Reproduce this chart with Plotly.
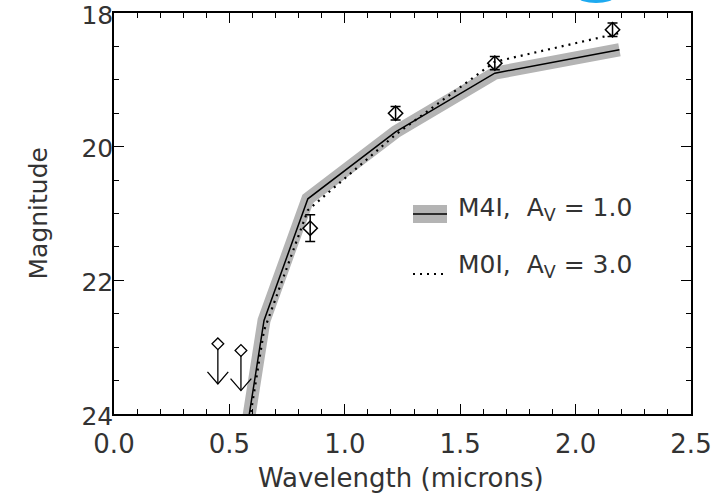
import numpy as np
import plotly.graph_objects as go

# Photometry of the source (microns, magnitudes)
obs_wave = [0.85, 1.22, 1.65, 2.16]
obs_mag = [21.22, 19.50, 18.75, 18.25]
obs_err = [0.20, 0.10, 0.10, 0.10]

# Upper limits (diamond = limit, arrow points fainter)
lim_wave = [0.45, 0.55]
lim_mag = [22.95, 23.05]
lim_arrow = 0.60  # arrow length in magnitudes

# Model SEDs
model_wave = [0.55, 0.65, 0.84, 1.22, 1.65, 2.19]
m4i_mag = [24.80, 22.60, 20.78, 19.78, 18.90, 18.55]   # M4I, Av = 1.0
m0i_mag = [24.90, 22.75, 20.95, 19.82, 18.73, 18.30]   # M0I, Av = 3.0

FONT = "DejaVu Sans"
TXT = "#333333"
BAND = "rgb(180,180,180)"
DOTS = "2px,5px"

fig = go.Figure()

# M4I model: grey uncertainty band drawn as a broad stroke, line on top
fig.add_trace(go.Scatter(x=model_wave, y=m4i_mag, mode="lines",
                         line=dict(color=BAND, width=13),
                         hoverinfo="skip", showlegend=False))
fig.add_trace(go.Scatter(x=model_wave, y=m4i_mag, mode="lines",
                         line=dict(color="black", width=1.5),
                         showlegend=False))
# M0I model: dotted
fig.add_trace(go.Scatter(x=model_wave, y=m0i_mag, mode="lines",
                         line=dict(color="black", width=2.2, dash=DOTS),
                         showlegend=False))

# Detections with error bars
fig.add_trace(go.Scatter(x=obs_wave, y=obs_mag, mode="markers",
                         marker=dict(symbol="diamond-open", size=11, color="black",
                                     line=dict(width=1.5)),
                         error_y=dict(type="data", array=obs_err, color="black",
                                      thickness=1.5, width=5),
                         showlegend=False))

# Upper limits: diamond, shaft and open arrowhead
head_dx, head_dy = 0.045, 0.18
for w, m in zip(lim_wave, lim_mag):
    tip = m + lim_arrow
    xs = [w, w, None, w - head_dx, w, w + head_dx]
    ys = [m + 0.08, tip, None, tip - head_dy, tip, tip - head_dy]
    fig.add_trace(go.Scatter(x=xs, y=ys, mode="lines",
                             line=dict(color="black", width=1.3),
                             showlegend=False))
fig.add_trace(go.Scatter(x=lim_wave, y=lim_mag, mode="markers",
                         marker=dict(symbol="diamond-open", size=9, color="black",
                                     line=dict(width=1.3)),
                         showlegend=False))

# Legend drawn by hand (pixel positions converted to paper fractions)
PX_W, PX_H = 577.0, 401.0
def px(xp, yp):
    return (xp - 114) / PX_W, 1 - (yp - 13) / PX_H

x0, y0 = px(413, 205)
x1, y1 = px(447, 223)
fig.add_shape(type="rect", xref="paper", yref="paper", x0=x0, x1=x1, y0=y1, y1=y0,
              fillcolor=BAND, line=dict(width=0))
lx0, ly = px(413, 214)
lx1, _ = px(447, 214)
fig.add_shape(type="line", xref="paper", yref="paper", x0=lx0, x1=lx1, y0=ly, y1=ly,
              line=dict(color="black", width=1.5))
dx0, dy = px(413, 274)
dx1, _ = px(447, 274)
fig.add_shape(type="line", xref="paper", yref="paper", x0=dx0, x1=dx1, y0=dy, y1=dy,
              line=dict(color="black", width=2.2, dash=DOTS))

tx, ty1 = px(456, 209)
_, ty2 = px(456, 266)
for yy, label in [(ty1, "M4I,  A<sub>V</sub> = 1.0"), (ty2, "M0I,  A<sub>V</sub> = 3.0")]:
    fig.add_annotation(xref="paper", yref="paper", x=tx, y=yy, text=label,
                       showarrow=False, xanchor="left", yanchor="middle",
                       font=dict(family=FONT, size=25, color=TXT))

# Axis titles
fig.add_annotation(xref="paper", yref="paper", x=(38 - 114) / PX_W, y=0.5,
                   text="Magnitude", textangle=-90, showarrow=False,
                   xanchor="center", yanchor="middle",
                   font=dict(family=FONT, size=25, color=TXT))
fig.add_annotation(xref="paper", yref="paper", x=(401 - 114) / PX_W,
                   y=-(478 - 414) / PX_H, text="Wavelength (microns)",
                   showarrow=False, xanchor="center", yanchor="middle",
                   font=dict(family=FONT, size=26, color=TXT))

# Small cyan mark at the top edge
cx0, cy_top = px(578, -9)
cx1, cy_bot = px(614, 3)
fig.add_shape(type="circle", xref="paper", yref="paper", x0=cx0, x1=cx1,
              y0=cy_bot, y1=cy_top, fillcolor="rgb(30,170,240)",
              line=dict(width=0), layer="above")

axis_common = dict(showline=True, linecolor="black", linewidth=1.5, mirror="ticks",
                   ticks="inside", ticklen=10, tickwidth=1.2, tickcolor="black",
                   showgrid=False, zeroline=False, automargin=False,
                   ticklabeloverflow="allow")

fig.update_xaxes(range=[0, 2.5], tick0=0, dtick=0.5, tickformat=".1f",
                 ticklabelstandoff=6,
                 tickfont=dict(family=FONT, size=26, color=TXT),
                 minor=dict(dtick=0.1, ticklen=5, tickwidth=1.2, tickcolor="black",
                            ticks="inside"),
                 **axis_common)
fig.update_yaxes(range=[24, 18], tick0=18, dtick=2, ticklabelstandoff=-6,
                 ticklabelshift=-2,
                 tickfont=dict(family=FONT, size=25, color=TXT),
                 minor=dict(dtick=0.5, ticklen=5, tickwidth=1.2, tickcolor="black",
                            ticks="inside"),
                 **axis_common)

fig.update_layout(width=720, height=500, margin=dict(l=114, r=29, t=13, b=86),
                  paper_bgcolor="white", plot_bgcolor="white", showlegend=False)

fig.write_html("out.html")
